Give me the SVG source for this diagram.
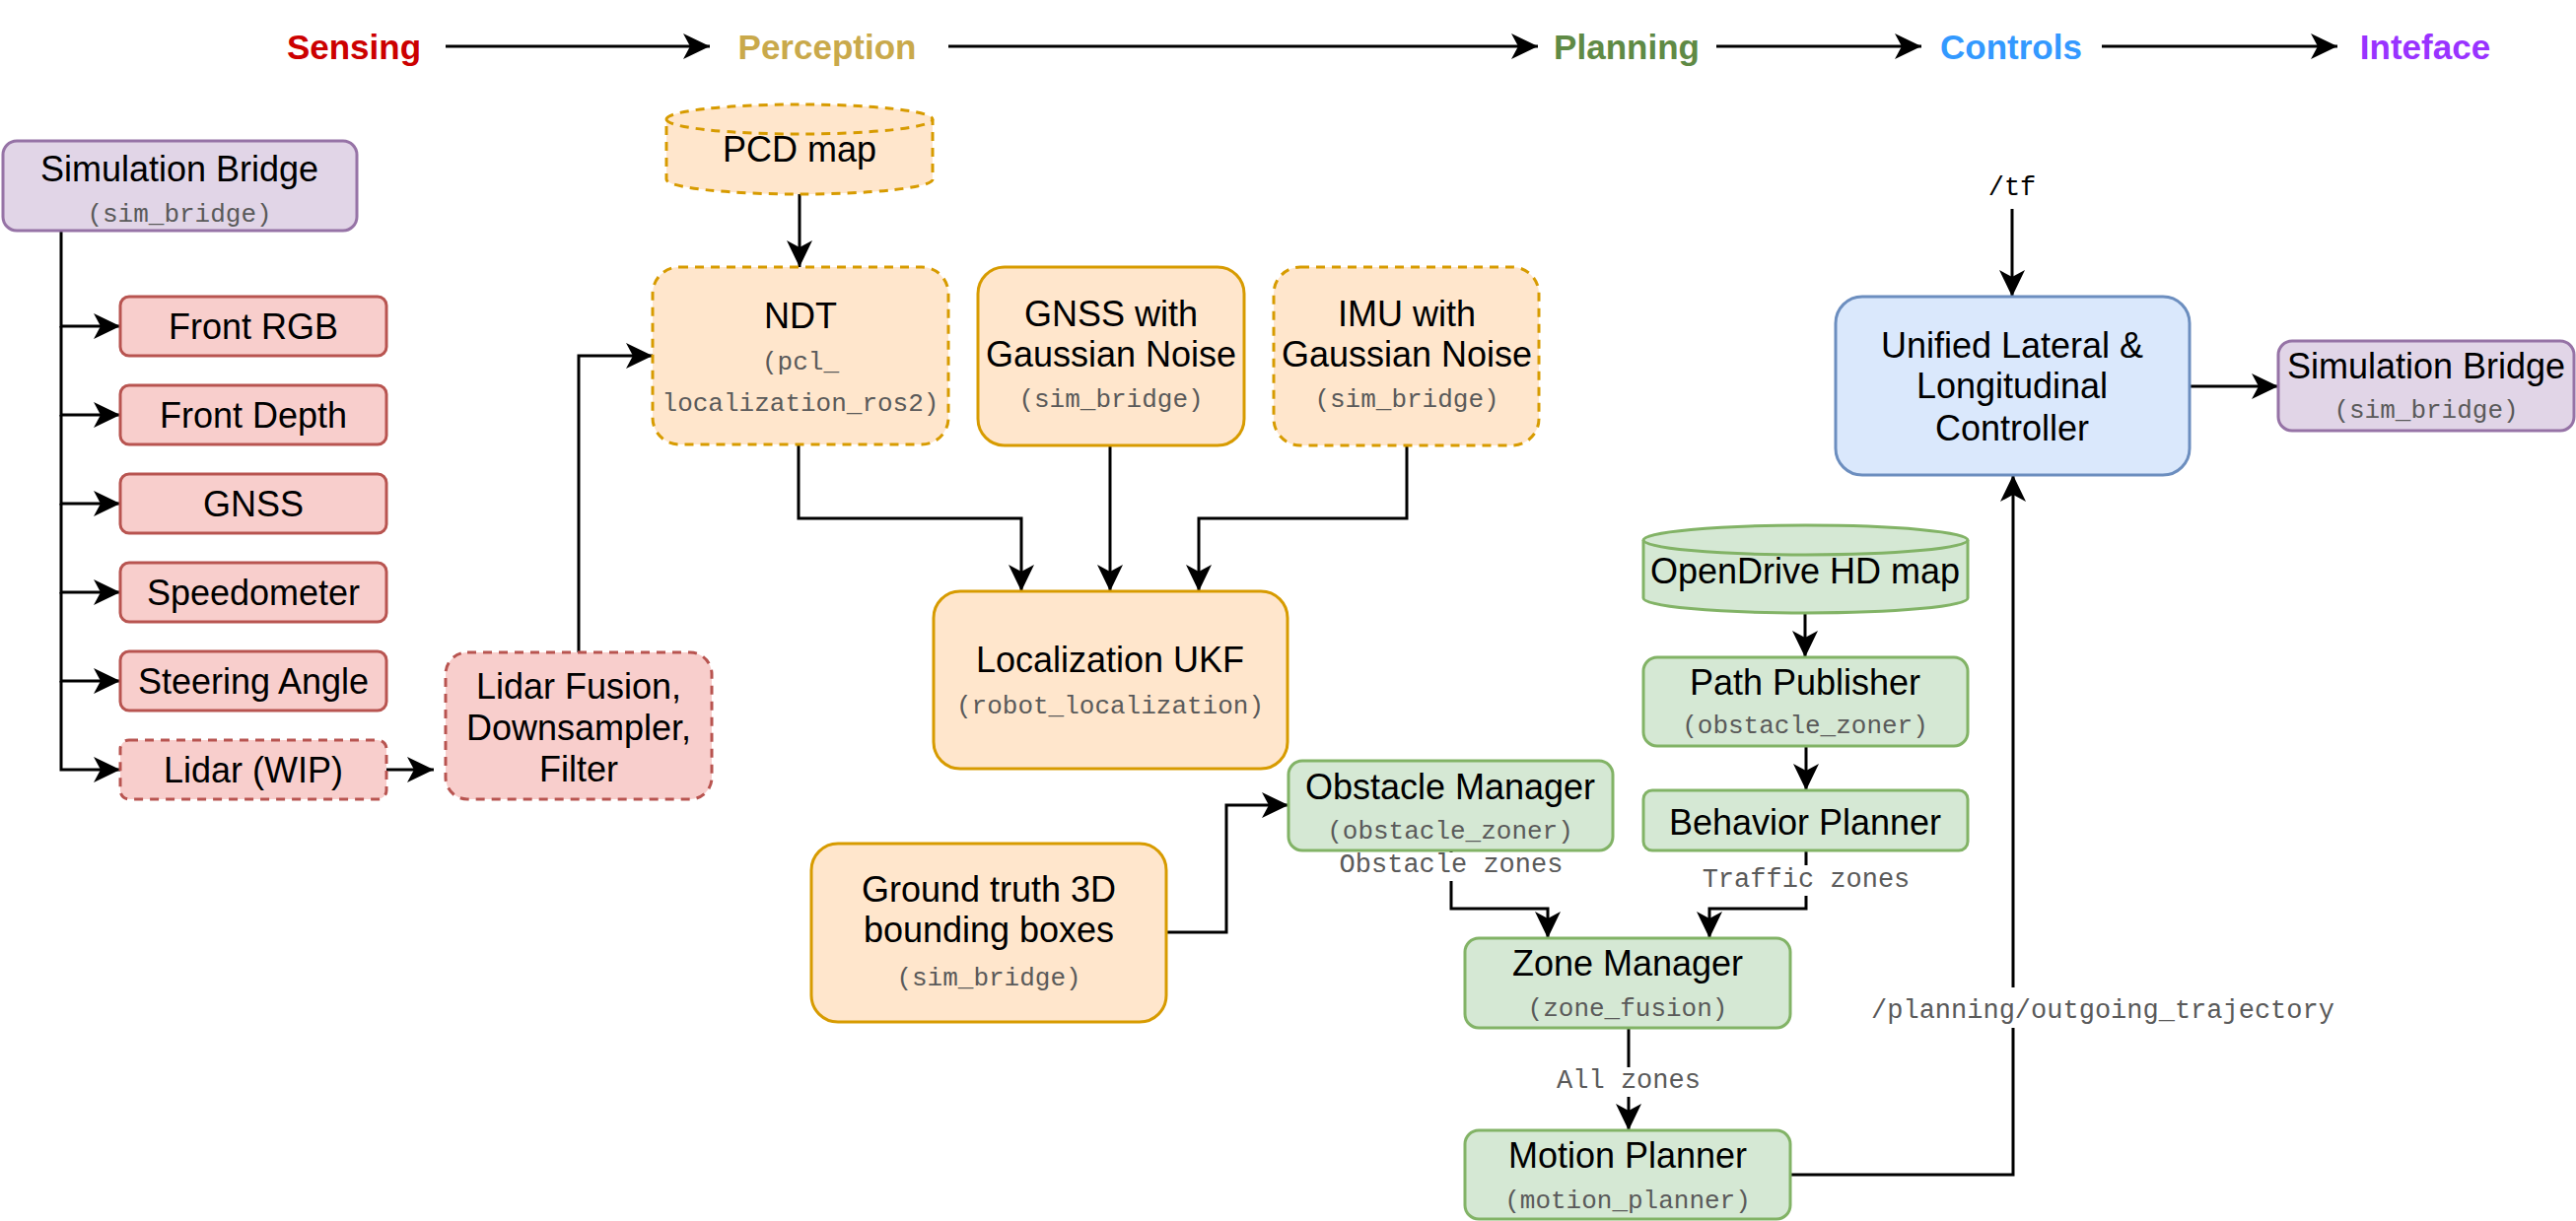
<svg xmlns="http://www.w3.org/2000/svg" width="2613" height="1239" viewBox="0 0 2613 1239">
<defs>
<marker id="arr" markerUnits="userSpaceOnUse" markerWidth="32" markerHeight="32" viewBox="-29 -16 32 32" refX="0" refY="0" orient="auto"><path d="M0,0 L-27,-13 L-20,0 L-27,13 Z" fill="#000"/></marker>
<style>
.t{font-family:"Liberation Sans",Arial,Helvetica,sans-serif;font-size:36px;fill:#000;text-anchor:middle}
.m{font-family:"Liberation Mono","Courier New",monospace;font-size:26px;fill:#5a5a5a;text-anchor:middle}
.lb{font-family:"Liberation Mono","Courier New",monospace;font-size:27px;fill:#5a5a5a;text-anchor:middle}
.h{font-family:"Liberation Sans",Arial,Helvetica,sans-serif;font-size:35px;font-weight:bold;text-anchor:middle}
.red{fill:#F8CECC;stroke:#B85450;stroke-width:3}
.org{fill:#FFE6CC;stroke:#D79B00;stroke-width:3}
.grn{fill:#D5E8D4;stroke:#82B366;stroke-width:3}
.blu{fill:#DAE8FC;stroke:#6C8EBF;stroke-width:3}
.pur{fill:#E1D5E7;stroke:#9673A6;stroke-width:3}
.d{stroke-dasharray:9 7}
.e{fill:none;stroke:#000;stroke-width:3;marker-end:url(#arr)}
.n{fill:none;stroke:#000;stroke-width:3}
</style>
</defs>
<rect width="2613" height="1239" fill="#fff"/>

<g id="titles">
<text class="h" x="359" y="60" fill="#CC0000">Sensing</text>
<text class="h" x="839" y="60" fill="#C9A94B">Perception</text>
<text class="h" x="1650" y="60" fill="#5F8A45">Planning</text>
<text class="h" x="2040" y="60" fill="#3399FF">Controls</text>
<text class="h" x="2460" y="60" fill="#9933FF">Inteface</text>
</g>

<g id="connectors">
<path class="e" d="M452,47 H720"/>
<path class="e" d="M962,47 H1560"/>
<path class="e" d="M1741,47 H1949"/>
<path class="e" d="M2132,47 H2371"/>
<path class="e" d="M62,234 V331 H122"/>
<path class="e" d="M62,331 V421 H122"/>
<path class="e" d="M62,421 V511 H122"/>
<path class="e" d="M62,511 V601 H122"/>
<path class="e" d="M62,601 V691 H122"/>
<path class="e" d="M62,691 V781 H122"/>
<path class="e" d="M392,781 H440"/>
<path class="e" d="M587,662 V361 H662"/>
<path class="e" d="M811,197 V271"/>
<path class="e" d="M810,451 V526 H1036 V600"/>
<path class="e" d="M1126,452 V600"/>
<path class="e" d="M1427,452 V526 H1216 V600"/>
<path class="e" d="M1183,946 H1244 V817 H1307"/>
<path class="e" d="M1472,863 V922 H1570 V952"/>
<path class="e" d="M1832,863 V922 H1734 V952"/>
<path class="e" d="M1831,622 V667"/>
<path class="e" d="M1832,757 V802"/>
<path class="e" d="M1652,1043 V1147"/>
<path class="e" d="M1816,1192 H2042 V482"/>
<path class="e" d="M2041,212 V301"/>
<path class="e" d="M2221,392 H2311"/>
<rect x="1358" y="865" width="228" height="29" fill="#fff"/>
<text class="lb" x="1472" y="885">Obstacle zones</text>
<rect x="1725" y="878" width="214" height="31" fill="#fff"/>
<text class="lb" x="1832" y="900">Traffic zones</text>
<rect x="1578" y="1083" width="148" height="30" fill="#fff"/>
<text class="lb" x="1652" y="1104">All zones</text>
<rect x="1896" y="1002" width="474" height="41" fill="#fff"/>
<text class="lb" x="2133" y="1033">/planning/outgoing_trajectory</text>
<text class="lb" x="2041" y="198" style="fill:#000">/tf</text>
</g>

<g id="sim_bridge_left">
<rect class="pur" x="3" y="143" width="359" height="91" rx="14"/>
<text class="t" x="182" y="184">Simulation Bridge</text>
<text class="m" x="182" y="225">(sim_bridge)</text>
</g>
<g id="front_rgb"><rect class="red" x="122" y="301" width="270" height="60" rx="9"/><text class="t" x="257" y="344">Front RGB</text></g>
<g id="front_depth"><rect class="red" x="122" y="391" width="270" height="60" rx="9"/><text class="t" x="257" y="434">Front Depth</text></g>
<g id="gnss"><rect class="red" x="122" y="481" width="270" height="60" rx="9"/><text class="t" x="257" y="524">GNSS</text></g>
<g id="speedometer"><rect class="red" x="122" y="571" width="270" height="60" rx="9"/><text class="t" x="257" y="614">Speedometer</text></g>
<g id="steering"><rect class="red" x="122" y="661" width="270" height="60" rx="9"/><text class="t" x="257" y="704">Steering Angle</text></g>
<g id="lidar"><rect class="red d" x="122" y="751" width="270" height="60" rx="9"/><text class="t" x="257" y="794">Lidar (WIP)</text></g>
<g id="lidar_fusion">
<rect class="red d" x="452" y="662" width="270" height="149" rx="22"/>
<text class="t" x="587" y="709">Lidar Fusion,</text>
<text class="t" x="587" y="751">Downsampler,</text>
<text class="t" x="587" y="793">Filter</text>
</g>

<g id="pcd_map">
<path class="org d" d="M676,121 A135,15 0 0 1 946,121 V182 A135,15 0 0 1 676,182 Z"/>
<path class="org d" style="fill:none" d="M676,121 A135,15 0 0 0 946,121"/>
<text class="t" x="811" y="164">PCD map</text>
</g>
<g id="ndt">
<rect class="org d" x="662" y="271" width="300" height="180" rx="27"/>
<text class="t" x="812" y="333">NDT</text>
<text class="m" x="812" y="375">(pcl_</text>
<text class="m" x="812" y="417">localization_ros2)</text>
</g>
<g id="gnss_noise">
<rect class="org" x="992" y="271" width="270" height="181" rx="27"/>
<text class="t" x="1127" y="331">GNSS with</text>
<text class="t" x="1127" y="372">Gaussian Noise</text>
<text class="m" x="1127" y="413">(sim_bridge)</text>
</g>
<g id="imu_noise">
<rect class="org d" x="1292" y="271" width="269" height="181" rx="27"/>
<text class="t" x="1427" y="331">IMU with</text>
<text class="t" x="1427" y="372">Gaussian Noise</text>
<text class="m" x="1427" y="413">(sim_bridge)</text>
</g>
<g id="localization_ukf">
<rect class="org" x="947" y="600" width="359" height="180" rx="27"/>
<text class="t" x="1126" y="682">Localization UKF</text>
<text class="m" x="1126" y="724">(robot_localization)</text>
</g>
<g id="ground_truth">
<rect class="org" x="823" y="856" width="360" height="181" rx="27"/>
<text class="t" x="1003" y="915">Ground truth 3D</text>
<text class="t" x="1003" y="956">bounding boxes</text>
<text class="m" x="1003" y="1000">(sim_bridge)</text>
</g>

<g id="obstacle_manager">
<rect class="grn" x="1307" y="772" width="329" height="91" rx="14"/>
<text class="t" x="1471" y="811">Obstacle Manager</text>
<text class="m" x="1471" y="851">(obstacle_zoner)</text>
</g>
<g id="opendrive_map">
<path class="grn" d="M1667,548 A164.5,15 0 0 1 1996,548 V607 A164.5,15 0 0 1 1667,607 Z"/>
<path class="grn" style="fill:none" d="M1667,548 A164.5,15 0 0 0 1996,548"/>
<text class="t" x="1831" y="592">OpenDrive HD map</text>
</g>
<g id="path_publisher">
<rect class="grn" x="1667" y="667" width="329" height="90" rx="14"/>
<text class="t" x="1831" y="705">Path Publisher</text>
<text class="m" x="1831" y="744">(obstacle_zoner)</text>
</g>
<g id="behavior_planner">
<rect class="grn" x="1667" y="802" width="329" height="61" rx="9"/>
<text class="t" x="1831" y="847">Behavior Planner</text>
</g>
<g id="zone_manager">
<rect class="grn" x="1486" y="952" width="330" height="91" rx="14"/>
<text class="t" x="1651" y="990">Zone Manager</text>
<text class="m" x="1651" y="1031">(zone_fusion)</text>
</g>
<g id="motion_planner">
<rect class="grn" x="1486" y="1147" width="330" height="90" rx="14"/>
<text class="t" x="1651" y="1185">Motion Planner</text>
<text class="m" x="1651" y="1226">(motion_planner)</text>
</g>
<g id="controller">
<rect class="blu" x="1862" y="301" width="359" height="181" rx="27"/>
<text class="t" x="2041" y="363">Unified Lateral &amp;</text>
<text class="t" x="2041" y="404">Longitudinal</text>
<text class="t" x="2041" y="447">Controller</text>
</g>
<g id="sim_bridge_right">
<rect class="pur" x="2311" y="346" width="300" height="91" rx="14"/>
<text class="t" x="2461" y="384">Simulation Bridge</text>
<text class="m" x="2461" y="424">(sim_bridge)</text>
</g>
</svg>
